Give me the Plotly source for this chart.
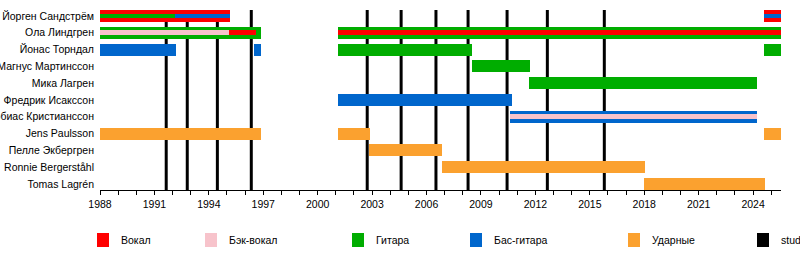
import plotly.graph_objects as go

# ---------------- data ----------------
members = ["Йорген Сандстрём", "Ола Линдгрен", "Йонас Торндал", "Магнус Мартинссон",
           "Мика Лагрен", "Фредрик Исакссон", "Тобиас Кристианссон", "Jens Paulsson",
           "Пелле Экбергрен", "Ronnie Bergerståhl", "Tomas Lagrén"]

role_names = ["Вокал", "Бэк-вокал", "Гитара", "Бас-гитара", "Ударные", "studio album"]
role_keys = ["vocals", "backing", "guitar", "bass", "drums", "studio"]
role_colors = ["#ff0000", "#f7c3cb", "#00ad00", "#0066cc", "#fba12f", "#000000"]

# main (thick) bars
outer_member = ["Йорген Сандстрём", "Йорген Сандстрём",
                "Ола Линдгрен", "Ола Линдгрен",
                "Йонас Торндал", "Йонас Торндал", "Йонас Торндал", "Йонас Торндал",
                "Магнус Мартинссон", "Мика Лагрен", "Фредрик Исакссон", "Тобиас Кристианссон",
                "Jens Paulsson", "Jens Paulsson", "Jens Paulsson",
                "Пелле Экбергрен", "Ronnie Bergerståhl", "Tomas Lagrén"]
outer_role = ["vocals", "vocals",
              "guitar", "guitar",
              "bass", "bass", "guitar", "guitar",
              "guitar", "guitar", "bass", "bass",
              "drums", "drums", "drums",
              "drums", "drums", "drums"]
outer_start = [1988.0, 2024.60,
               1988.0, 2001.12,
               1988.0, 1996.50, 2001.12, 2024.60,
               2008.48, 2011.66, 2001.12, 2010.62,
               1988.0, 2001.12, 2024.60,
               2002.85, 2006.83, 2017.98]
outer_end = [1995.17, 2025.54,
             1996.88, 2025.54,
             1992.19, 1996.88, 2008.48, 2025.54,
             2011.70, 2024.22, 2010.69, 2024.22,
             1996.88, 2002.88, 2025.54,
             2006.83, 2018.04, 2024.66]

# secondary (thin) bars
inner_member = ["Йорген Сандстрём", "Йорген Сандстрём", "Йорген Сандстрём",
                "Ола Линдгрен", "Ола Линдгрен", "Ола Линдгрен",
                "Тобиас Кристианссон"]
inner_role = ["guitar", "bass", "bass",
              "backing", "vocals", "vocals",
              "backing"]
inner_start = [1988.0, 1992.13, 2024.60,
               1988.0, 1995.13, 2001.12,
               2010.62]
inner_end = [1992.13, 1995.17, 2025.54,
             1995.13, 1996.58, 2025.54,
             2024.22]

album_years = [1991.65, 1992.81, 1994.47, 1996.34, 2002.73, 2004.60,
               2006.52, 2008.29, 2010.44, 2012.66, 2015.80]

x_start, x_end = 1988.0, 2025.54
tick_years = list(range(1988, 2026, 3))

# ---------------- figure ----------------
FONT = "Liberation Sans, Arial, sans-serif"
color_of = dict(zip(role_keys, role_colors))
row_of = {m: i for i, m in enumerate(members)}

fig = go.Figure()

def add_bars(mem, role, start, end, width):
    for key in role_keys:
        idx = [i for i, r in enumerate(role) if r == key]
        if not idx:
            continue
        fig.add_trace(go.Bar(
            orientation="h",
            y=[row_of[mem[i]] for i in idx],
            base=[start[i] for i in idx],
            x=[end[i] - start[i] for i in idx],
            width=width,
            marker=dict(color=color_of[key], line=dict(width=0)),
            showlegend=False, hoverinfo="skip"))

add_bars(outer_member, outer_role, outer_start, outer_end, 0.72)
add_bars(inner_member, inner_role, inner_start, inner_end, 0.28)

for yr in album_years:
    fig.add_shape(type="line", xref="x", yref="paper", x0=yr, x1=yr, y0=0, y1=1,
                  line=dict(color="black", width=3), layer="below")

# legend drawn manually
legend_sq_px = [103, 211, 358, 476, 634, 763]
L, R, T, B, W, H = 100, 19, 10, 80, 800, 270
pw, ph = W - L - R, H - T - B
leg_y = (T + ph - 240) / ph
for name, col, px in zip(role_names, role_colors, legend_sq_px):
    xp = (px - L) / pw
    fig.add_shape(type="rect", xref="paper", yref="paper",
                  xsizemode="pixel", ysizemode="pixel",
                  xanchor=xp, yanchor=leg_y, x0=-6, x1=6, y0=-7, y1=7,
                  fillcolor=col, line=dict(width=0))
    fig.add_annotation(xref="paper", yref="paper", x=xp, y=leg_y, xshift=16,
                       text=name, showarrow=False, xanchor="left", yanchor="middle",
                       font=dict(family=FONT, size=10.5, color="black"))

fig.update_layout(
    width=W, height=H,
    margin=dict(l=L, r=R, t=T, b=B, autoexpand=False),
    plot_bgcolor="white", paper_bgcolor="white",
    barmode="overlay", bargap=0,
    font=dict(family=FONT, size=10.5, color="black"),
    xaxis=dict(range=[x_start, x_end], tickmode="array", tickvals=tick_years,
               ticktext=[str(y) for y in tick_years],
               ticks="outside", ticklen=4, tickcolor="black", tickwidth=1,
               minor=dict(dtick=1, tick0=1988, ticks="outside", ticklen=4,
                          tickcolor="black", tickwidth=1),
               showline=True, linecolor="black", linewidth=1,
               showgrid=False, zeroline=False, automargin=False,
               tickfont=dict(family=FONT, size=10.5, color="black")),
    yaxis=dict(range=[10.357, -0.357], tickmode="array",
               tickvals=list(range(len(members))), ticktext=members,
               ticks="", showline=False, showgrid=False, zeroline=False,
               automargin=False, ticklabelstandoff=5,
               tickfont=dict(family=FONT, size=10.5, color="black")),
)

fig.write_html("out.html")
